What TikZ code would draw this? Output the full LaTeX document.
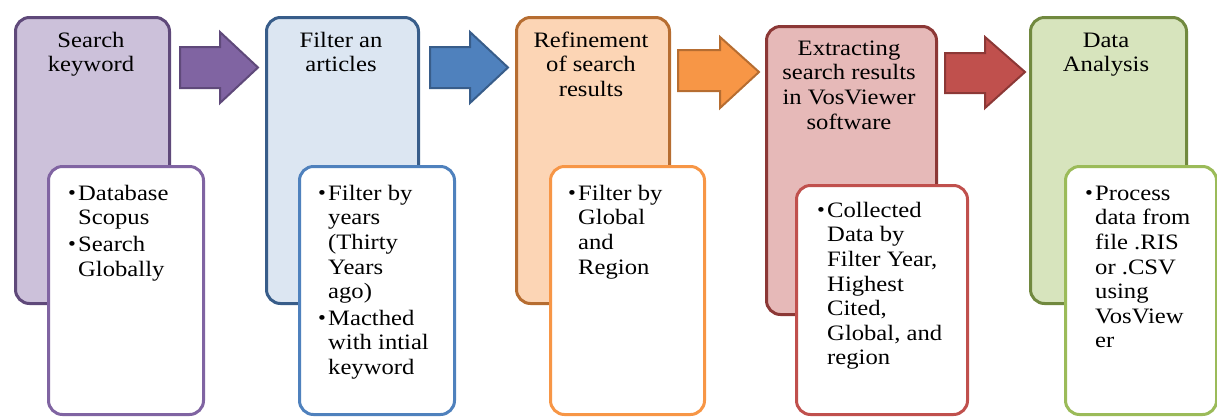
\documentclass[tikz,border=0pt]{standalone}
\usepackage{fontspec}
\setmainfont{Liberation Serif}[FakeStretch=1.12]
\definecolor{pF}{HTML}{CCC1DA}\definecolor{pD}{HTML}{5F497A}\definecolor{pM}{HTML}{8064A2}
\definecolor{bF}{HTML}{DCE6F2}\definecolor{bD}{HTML}{385D8A}\definecolor{bM}{HTML}{4F81BD}
\definecolor{oF}{HTML}{FCD5B5}\definecolor{oD}{HTML}{B66D31}\definecolor{oM}{HTML}{F79646}
\definecolor{rF}{HTML}{E6B9B8}\definecolor{rD}{HTML}{8C3836}\definecolor{rM}{HTML}{C0504D}
\definecolor{gF}{HTML}{D7E4BD}\definecolor{gD}{HTML}{71893F}\definecolor{gM}{HTML}{9BBB59}
\newcommand\bul{\makebox[10pt][l]{\fontsize{20}{20}\selectfont\raisebox{0.5pt}{•}}}
\newcommand\ind{\hspace*{10pt}}
\tikzset{
  outerbox/.style={rectangle, rounded corners=14pt, line width=3pt, anchor=north west, inner sep=0pt},
  innerbox/.style={rectangle, rounded corners=14pt, line width=3pt, fill=white, anchor=north west, inner sep=0pt},
  titletext/.style={align=center, inner sep=0pt, anchor=north, font=\fontsize{22}{24.6}\selectfont},
  listtext/.style={align=left, inner sep=0pt, anchor=north west, font=\fontsize{22}{24.6}\selectfont},
  blockarrow/.style={line width=2pt, line join=miter}
}
\begin{document}
\begin{tikzpicture}[x=1pt,y=-1pt]
\useasboundingbox (0,0) rectangle (1217,416);
% column 1
\node[outerbox, draw=pD, fill=pF, minimum width=154pt, minimum height=286pt] (o1) at (14,16) {};
\node[innerbox, draw=pM, minimum width=155pt, minimum height=248pt] (i1) at (47,165) {};
\node[titletext] (t1) at (91,29.8) {\strut Search\\keyword};
\node[listtext] (l1) at (68,182.8) {\bul\strut Database\\ \ind Scopus\\[2pt] \bul Search\\ \ind Globally};
% column 2
\node[outerbox, draw=bD, fill=bF, minimum width=152pt, minimum height=286pt] (o2) at (265,16) {};
\node[innerbox, draw=bM, minimum width=155pt, minimum height=248pt] (i2) at (298,165) {};
\node[titletext] (t2) at (341,29.8) {\strut Filter an\\articles};
\node[listtext] (l2) at (318,182.8) {\bul\strut Filter by\\ \ind years\\ \ind (Thirty\\ \ind Years\\ \ind ago)\\[2pt] \bul Macthed\\ \ind with intial\\ \ind keyword};
% column 3
\node[outerbox, draw=oD, fill=oF, minimum width=153pt, minimum height=286pt] (o3) at (515,16) {};
\node[innerbox, draw=oM, minimum width=154pt, minimum height=248pt] (i3) at (549,165) {};
\node[titletext] (t3) at (591,29.8) {\strut Refinement\\of search\\results};
\node[listtext] (l3) at (568,182.8) {\bul\strut Filter by\\ \ind Global\\ \ind and\\ \ind Region};
% column 4
\node[outerbox, draw=rD, fill=rF, minimum width=170pt, minimum height=288pt] (o4) at (765,25) {};
\node[innerbox, draw=rM, minimum width=171pt, minimum height=229pt] (i4) at (795,184) {};
\node[titletext] (t4) at (849,37.8) {\strut Extracting\\search results\\in VosViewer\\software};
\node[listtext] (l4) at (817,199.8) {\bul\strut Collected\\ \ind Data by\\ \ind Filter Year,\\ \ind Highest\\ \ind Cited,\\ \ind Global, and\\ \ind region};
% column 5
\node[outerbox, draw=gD, fill=gF, minimum width=156pt, minimum height=286pt] (o5) at (1029,16) {};
\node[innerbox, draw=gM, minimum width=151pt, minimum height=248pt] (i5) at (1064,165) {};
\node[titletext] (t5) at (1106,29.8) {\strut Data\\Analysis};
\node[listtext] (l5) at (1085,182.8) {\bul\strut Process\\ \ind data from\\ \ind file .RIS\\ \ind or .CSV\\ \ind using\\ \ind VosView\\ \ind er};
% block arrows
\draw[blockarrow, draw=pD, fill=pM] (180,47) -- (220,47) -- (220,32) -- (258,67.5) -- (220,103) -- (220,88) -- (180,88) -- cycle;
\draw[blockarrow, draw=bD, fill=bM] (430,47) -- (470,47) -- (470,32) -- (508,67.5) -- (470,103) -- (470,88) -- (430,88) -- cycle;
\draw[blockarrow, draw=oD, fill=oM] (678,50) -- (720,50) -- (720,37) -- (759,72) -- (720,108) -- (720,91) -- (678,91) -- cycle;
\draw[blockarrow, draw=rD, fill=rM] (945,53) -- (985,53) -- (985,37) -- (1025,72) -- (985,108) -- (985,93) -- (945,93) -- cycle;
\end{tikzpicture}
\end{document}
